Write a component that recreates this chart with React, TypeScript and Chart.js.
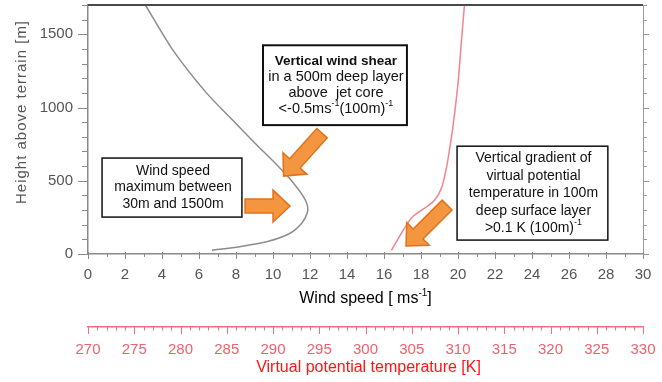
import React, { useEffect, useRef } from 'react';
import { Chart, registerables } from 'chart.js';

Chart.register(...registerables);

const FONT = "'Liberation Sans', Arial, Helvetica, sans-serif";

// Wind speed profile: speed (m/s) against height above terrain (m)
const windSpeed = [6.7, 8.2, 9.7, 10.9, 11.55, 11.85, 11.85, 11.6, 10.9, 10.2, 9.0, 7.85, 6.4, 4.6, 3.1];
const windHeight = [25, 50, 85, 140, 210, 280, 335, 400, 515, 610, 760, 910, 1100, 1390, 1700];

// Virtual potential temperature profile (K) against height (m)
const thetaV = [302.8, 304.2, 305.1, 307.3, 308.2, 308.7, 308.9, 309.45, 310.0, 310.35, 310.7];
const thetaHeight = [25, 175, 254, 357, 448, 573, 641, 868, 1164, 1437, 1700];

// Labelled ticks
const speedTicks = [0, 2, 4, 6, 8, 10, 12, 14, 16, 18, 20, 22, 24, 26, 28, 30];
const heightTicks = [0, 500, 1000, 1500];
const tempTicks = [270, 275, 280, 285, 290, 295, 300, 305, 310, 315, 320, 325, 330];

type Seg = { t: string; sup?: boolean; bold?: boolean };
type Line = { segs: Seg[]; size: number };

// Callout boxes, corners given in (wind speed, height)
const notes: { box: [number, number, number, number]; lineHeight: number; lines: Line[] }[] = [
  {
    box: [9.46, 1425, 17.24, 880],
    lineHeight: 16,
    lines: [
      { size: 13.5, segs: [{ t: 'Vertical wind shear', bold: true }] },
      { size: 14.5, segs: [{ t: 'in a 500m deep layer' }] },
      { size: 14.5, segs: [{ t: 'above  jet core' }] },
      { size: 14.5, segs: [{ t: '<-0.5ms' }, { t: '-1', sup: true }, { t: '(100m)' }, { t: '-1', sup: true }] },
    ],
  },
  {
    box: [0.76, 655, 8.32, 252],
    lineHeight: 16.7,
    lines: [
      { size: 14, segs: [{ t: 'Wind speed' }] },
      { size: 14, segs: [{ t: 'maximum between' }] },
      { size: 14, segs: [{ t: '30m and 1500m' }] },
    ],
  },
  {
    box: [19.95, 736, 28.1, 95],
    lineHeight: 17.5,
    lines: [
      { size: 14, segs: [{ t: 'Vertical gradient of' }] },
      { size: 14, segs: [{ t: 'virtual potential' }] },
      { size: 14, segs: [{ t: 'temperature in 100m' }] },
      { size: 14, segs: [{ t: 'deep surface layer' }] },
      { size: 14, segs: [{ t: '>0.1 K (100m)' }, { t: '-1', sup: true }] },
    ],
  },
];

// Block arrows, tail and tip in (wind speed, height)
const arrows: { from: [number, number]; to: [number, number] }[] = [
  { from: [12.65, 825], to: [10.57, 532] },
  { from: [8.49, 327], to: [10.92, 327] },
  { from: [19.41, 334], to: [17.19, 55] },
];

function segFont(s: Seg, size: number) {
  const sz = s.sup ? Math.round(size * 0.65) : size;
  return `${s.bold ? 'bold ' : ''}${sz}px ${FONT}`;
}

function drawRich(ctx: CanvasRenderingContext2D, segs: Seg[], cx: number, cy: number, size: number, color: string) {
  ctx.save();
  ctx.fillStyle = color;
  ctx.textBaseline = 'middle';
  ctx.textAlign = 'left';
  let total = 0;
  const widths = segs.map((s) => {
    ctx.font = segFont(s, size);
    const w = ctx.measureText(s.t).width;
    total += w;
    return w;
  });
  let x = cx - total / 2;
  segs.forEach((s, i) => {
    ctx.font = segFont(s, size);
    ctx.fillText(s.t, x, s.sup ? cy - size * 0.38 : cy);
    x += widths[i];
  });
  ctx.restore();
}

function stroke(ctx: CanvasRenderingContext2D, x1: number, y1: number, x2: number, y2: number, color: string, w: number) {
  ctx.beginPath();
  ctx.moveTo(x1, y1);
  ctx.lineTo(x2, y2);
  ctx.strokeStyle = color;
  ctx.lineWidth = w;
  ctx.stroke();
}

function drawArrow(ctx: CanvasRenderingContext2D, x1: number, y1: number, x2: number, y2: number) {
  const len = Math.hypot(x2 - x1, y2 - y1);
  const shaft = 7;
  const head = 16;
  const headLen = 17;
  ctx.save();
  ctx.translate(x1, y1);
  ctx.rotate(Math.atan2(y2 - y1, x2 - x1));
  ctx.beginPath();
  ctx.moveTo(0, -shaft);
  ctx.lineTo(len - headLen, -shaft);
  ctx.lineTo(len - headLen, -head);
  ctx.lineTo(len, 0);
  ctx.lineTo(len - headLen, head);
  ctx.lineTo(len - headLen, shaft);
  ctx.lineTo(0, shaft);
  ctx.closePath();
  ctx.fillStyle = '#f4963f';
  ctx.fill();
  ctx.lineJoin = 'miter';
  ctx.strokeStyle = '#e2711b';
  ctx.lineWidth = 1.5;
  ctx.stroke();
  ctx.restore();
}

// fixed axis sizes so the plot area lands on exact edges
const fixSize = (dim: 'width' | 'height', value: number) => (s: any) => {
  s[dim] = value;
  s.paddingTop = 0;
  s.paddingBottom = 0;
  s.paddingLeft = 0;
  s.paddingRight = 0;
};

const decor = {
  id: 'profileDecor',
  afterDraw(chart: any) {
    const { ctx, chartArea: a, scales } = chart;
    const xs = scales.x;
    const ys = scales.y;
    const ts = scales.xT;
    ctx.save();

    // frame: top line and right axis
    stroke(ctx, a.left, a.top, a.right, a.top, '#4a4a4a', 2);
    stroke(ctx, a.right + 0.5, a.top, a.right + 0.5, a.bottom, '#9a9a9a', 1);

    // height ticks, left (outside) and right (outside)
    for (let h = 0; h <= 1700; h += 100) {
      const py = Math.round(ys.getPixelForValue(h)) + 0.5;
      const major = h % 500 === 0;
      stroke(ctx, a.left - (major ? 10 : 6), py, a.left, py, '#8a8a8a', 1);
      stroke(ctx, a.right, py, a.right + (major ? 6 : 4), py, '#9a9a9a', 1);
    }

    // wind speed ticks
    for (let s = 0; s <= 30; s++) {
      const px = Math.round(xs.getPixelForValue(s)) + 0.5;
      const major = s % 2 === 0;
      stroke(ctx, px, a.bottom - (major ? 2 : 1), px, a.bottom + (major ? 5 : 3), '#8a8a8a', 1);
    }

    // temperature ticks
    for (let T = 270; T <= 330; T++) {
      const px = Math.round(ts.getPixelForValue(T)) + 0.5;
      const major = T % 5 === 0;
      stroke(ctx, px, ts.top, px, ts.top + (major ? 7 : 3.5), '#f2707c', 1);
    }

    // axis titles
    const cx = (a.left + a.right) / 2;
    drawRich(ctx, [{ t: 'Wind speed [ ms' }, { t: '-1', sup: true }, { t: ']' }], cx, 299, 16, '#000');
    drawRich(ctx, [{ t: 'Virtual potential temperature [K]' }], cx + 3, 368, 16, '#ff1414');

    ctx.save();
    ctx.translate(22, 112);
    ctx.rotate(-Math.PI / 2);
    ctx.font = `15px ${FONT}`;
    (ctx as any).letterSpacing = '1px';
    ctx.fillStyle = '#555';
    ctx.textAlign = 'center';
    ctx.textBaseline = 'middle';
    ctx.fillText('Height above terrain [m]', 0, 0);
    ctx.restore();

    // arrows
    arrows.forEach((ar) => {
      drawArrow(
        ctx,
        xs.getPixelForValue(ar.from[0]), ys.getPixelForValue(ar.from[1]),
        xs.getPixelForValue(ar.to[0]), ys.getPixelForValue(ar.to[1]),
      );
    });

    // callout boxes
    notes.forEach((n, idx) => {
      const x1 = xs.getPixelForValue(n.box[0]);
      const y1 = ys.getPixelForValue(n.box[1]);
      const x2 = xs.getPixelForValue(n.box[2]);
      const y2 = ys.getPixelForValue(n.box[3]);
      ctx.fillStyle = '#fff';
      ctx.fillRect(x1, y1, x2 - x1, y2 - y1);
      ctx.strokeStyle = '#111';
      ctx.lineWidth = idx === 0 ? 2 : 1.5;
      ctx.strokeRect(x1, y1, x2 - x1, y2 - y1);
      const block = n.lines.length * n.lineHeight;
      const start = (y1 + y2) / 2 - block / 2 + n.lineHeight / 2;
      n.lines.forEach((ln, i) => {
        drawRich(ctx, ln.segs, (x1 + x2) / 2 + 1, start + i * n.lineHeight, ln.size, '#111');
      });
    });

    ctx.restore();
  },
};

const plainLabel = (v: any) => String(v);

export default function App() {
  const ref = useRef<HTMLCanvasElement | null>(null);

  useEffect(() => {
    if (!ref.current) return;
    const chart = new Chart(ref.current, {
      type: 'line',
      data: {
        datasets: [
          {
            label: 'Wind speed',
            data: windSpeed.map((v, i) => ({ x: v, y: windHeight[i] })),
            xAxisID: 'x',
            yAxisID: 'y',
            borderColor: '#8c8c8c',
            borderWidth: 1.5,
            pointRadius: 0,
            tension: 0.25,
            fill: false,
          },
          {
            label: 'Virtual potential temperature',
            data: thetaV.map((v, i) => ({ x: v, y: thetaHeight[i] })),
            xAxisID: 'xT',
            yAxisID: 'y',
            borderColor: '#f4838f',
            borderWidth: 1.5,
            pointRadius: 0,
            tension: 0.25,
            fill: false,
          },
        ],
      },
      options: {
        animation: false,
        responsive: false,
        events: [],
        layout: { padding: { top: 5, right: 19, left: 0, bottom: 0 } },
        plugins: { legend: { display: false }, tooltip: { enabled: false } },
        scales: {
          x: {
            type: 'linear',
            position: 'bottom',
            min: 0,
            max: 30,
            afterBuildTicks: (s: any) => { s.ticks = speedTicks.map((v) => ({ value: v })); },
            afterFit: fixSize('height', 73),
            grid: { display: false, drawTicks: false },
            border: { display: true, color: '#8a8a8a', width: 1.5 },
            ticks: { padding: 12, color: '#555', font: { family: FONT, size: 15 }, autoSkip: false, maxRotation: 0, callback: plainLabel },
          },
          xT: {
            type: 'linear',
            position: 'bottom',
            min: 270,
            max: 330,
            afterBuildTicks: (s: any) => { s.ticks = tempTicks.map((v) => ({ value: v })); },
            afterFit: fixSize('height', 55),
            grid: { display: false, drawTicks: false },
            border: { display: true, color: '#f2707c', width: 1.5 },
            ticks: { padding: 14, color: '#f0606c', font: { family: FONT, size: 15 }, autoSkip: false, maxRotation: 0, callback: plainLabel },
          },
          y: {
            type: 'linear',
            position: 'left',
            min: 0,
            max: 1700,
            afterBuildTicks: (s: any) => { s.ticks = heightTicks.map((v) => ({ value: v })); },
            afterFit: fixSize('width', 88),
            grid: { display: false, drawTicks: false },
            border: { display: true, color: '#8a8a8a', width: 1.5 },
            ticks: { padding: 15, color: '#555', font: { family: FONT, size: 15 }, autoSkip: false, callback: plainLabel },
          },
        },
      },
      plugins: [decor],
    } as any);
    return () => chart.destroy();
  }, []);

  return (
    <div style={{ position: 'absolute', left: 0, top: 0, width: 662, height: 382, background: '#fff' }}>
      <canvas ref={ref} width={662} height={382} style={{ display: 'block' }} />
    </div>
  );
}
